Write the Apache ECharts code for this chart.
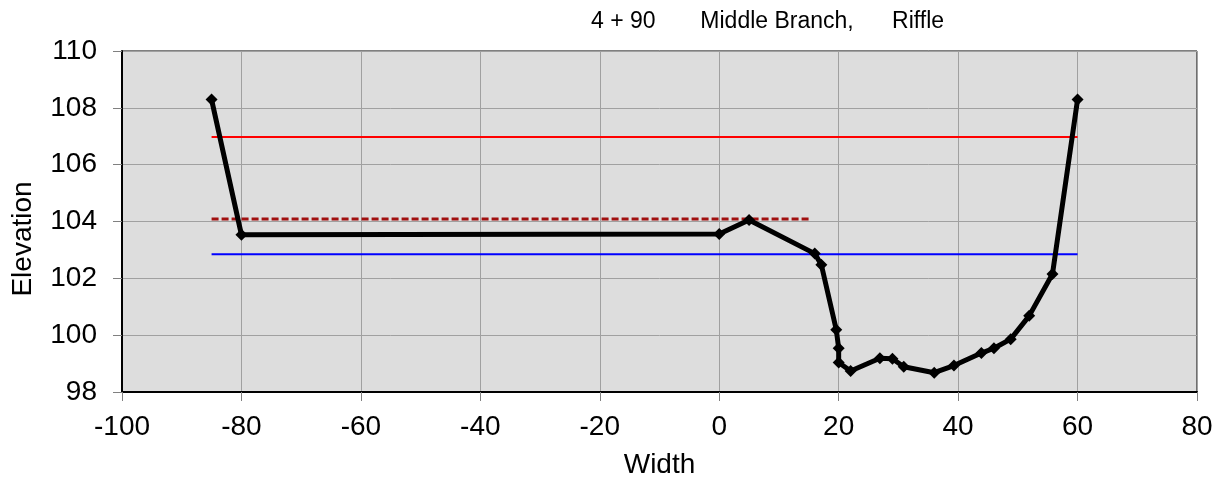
<!DOCTYPE html>
<html>
<head>
<meta charset="utf-8">
<script src="https://cdn.jsdelivr.net/npm/echarts@6/dist/echarts.min.js"></script>
<style>html,body{margin:0;padding:0;background:#fff;}#c{width:1223px;height:479px;}</style>
</head>
<body>
<div id="c"></div>
<script>
const titleText = '4 + 90       Middle Branch,      Riffle';
const xAxisTitle = 'Width';
const yAxisTitle = 'Elevation';
const xTicks = [-100, -80, -60, -40, -20, 0, 20, 40, 60, 80];
const yTicks = [98, 100, 102, 104, 106, 108, 110];
const profileX = [-85, -80, 0, 5, 16, 17.1, 19.6, 20, 20, 22, 26.9, 29, 30.9, 36, 39.3, 43.9, 46, 48.8, 51.9, 55.8, 60];
const profileY = [108.29, 103.53, 103.56, 104.05, 102.87, 102.48, 100.19, 99.54, 99.04, 98.74, 99.19, 99.17, 98.89, 98.68, 98.93, 99.37, 99.54, 99.86, 100.68, 102.15, 108.29];
const redX = [-85, 60];
const redY = [106.97, 106.97];
const blueX = [-85, 60];
const blueY = [102.85, 102.85];
const dashX = [-85, 15.4];
const dashY = [104.09, 104.09];

const zip = (a, b) => a.map((v, i) => [v, b[i]]);
const font = '"Liberation Sans", Arial, sans-serif';

const chart = echarts.init(document.getElementById('c'), null, {renderer: 'canvas'});
chart.setOption({
  animation: false,
  backgroundColor: '#ffffff',
  title: {
    text: titleText,
    left: 591, top: 10, padding: 0,
    textStyle: {fontFamily: font, fontSize: 23, fontWeight: 'normal', color: '#000'}
  },
  graphic: [{
    type: 'text', x: 23, y: 239, rotation: Math.PI / 2,
    style: {text: yAxisTitle, fontFamily: font, fontSize: 28, fill: '#000', align: 'center', verticalAlign: 'middle'}
  }],
  grid: {left: 122, right: 26, top: 51, bottom: 87, show: true, containLabel: false, outerBoundsMode: 'none',
    backgroundColor: '#dddddd', borderColor: '#000', borderWidth: 1},
  xAxis: {
    type: 'value', min: xTicks[0], max: xTicks[xTicks.length - 1], interval: 20,
    name: xAxisTitle, nameLocation: 'middle', nameGap: 59,
    nameTextStyle: {fontFamily: font, fontSize: 28, color: '#000'},
    axisLine: {show: true, onZero: false, lineStyle: {color: '#000', width: 2}},
    axisTick: {show: true, length: 9, lineStyle: {color: '#808080'}},
    axisLabel: {fontFamily: font, fontSize: 28, color: '#000', margin: 21},
    splitLine: {show: true, lineStyle: {color: '#a0a0a0', width: 1}}
  },
  yAxis: {
    type: 'value', min: yTicks[0], max: yTicks[yTicks.length - 1], interval: 2,
    axisLine: {show: true, onZero: false, lineStyle: {color: '#000', width: 2}},
    axisTick: {show: true, length: 9, lineStyle: {color: '#808080'}},
    axisLabel: {fontFamily: font, fontSize: 28, color: '#000', margin: 25},
    splitLine: {show: true, lineStyle: {color: '#a0a0a0', width: 1}}
  },
  series: [
    {type: 'line', data: zip(redX, redY), symbol: 'none', lineStyle: {color: '#ff0000', width: 2}, z: 2},
    {type: 'line', data: zip(blueX, blueY), symbol: 'none', lineStyle: {color: '#0000ff', width: 2}, z: 2},
    {type: 'line', data: zip(dashX, dashY), symbol: 'none', lineStyle: {color: '#a01010', width: 3, type: [7, 3]}, z: 2},
    {type: 'line', data: zip(profileX, profileY), symbol: 'diamond', symbolSize: 12,
      itemStyle: {color: '#000'}, lineStyle: {color: '#000', width: 5}, z: 3}
  ]
});
</script>
</body>
</html>
